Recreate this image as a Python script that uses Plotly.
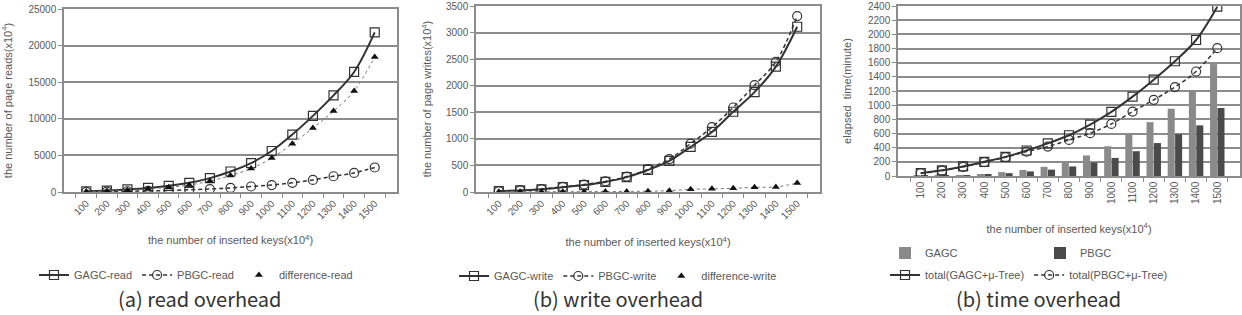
import plotly.graph_objects as go

keys = ['100', '200', '300', '400', '500', '600', '700', '800', '900', '1000',
        '1100', '1200', '1300', '1400', '1500']

gagc_read = [100, 200, 350, 550, 850, 1250, 1900, 2800, 3950, 5600, 7850, 10400, 13200, 16400, 21800]
pbgc_read = [30, 60, 100, 150, 200, 300, 400, 550, 750, 950, 1250, 1650, 2150, 2600, 3350]
diff_read = [70, 140, 250, 400, 650, 950, 1500, 2250, 3200, 4650, 6600, 8750, 11050, 13800, 18450]

gagc_write = [15, 30, 50, 90, 130, 190, 280, 415, 585, 850, 1130, 1510, 1880, 2360, 3110]
pbgc_write = [15, 30, 55, 95, 140, 200, 290, 430, 620, 910, 1220, 1590, 2010, 2450, 3310]
diff_write = [3, 4, 5, 5, 6, 8, 10, 15, 25, 50, 60, 70, 90, 95, 170]

gagc_time = [3, 5, 12, 25, 55, 85, 130, 190, 290, 420, 590, 760, 950, 1200, 1580]
pbgc_time = [2, 3, 8, 15, 40, 65, 90, 135, 190, 255, 350, 465, 590, 715, 960]
gagc_total = [40, 80, 135, 200, 270, 360, 460, 575, 725, 905, 1120, 1360, 1620, 1920, 2390]
pbgc_total = [40, 75, 130, 195, 265, 345, 415, 510, 605, 735, 910, 1075, 1255, 1475, 1805]

W, H = 1242, 315
TXT = '#595959'
LINE = '#333333'
GRID = '#8c8c8c'
FONT = 'Liberation Sans, Arial, sans-serif'
DASH = '4px,3px'

def px_x(a, b):
    return [a / W, b / W]

def px_y(top, bottom):
    return [(H - bottom) / H, (H - top) / H]

fig = go.Figure()

def line_traces(xa, ya, s1, s2, n1, n2, legend):
    fig.add_trace(go.Scatter(x=keys, y=s1, name=n1, xaxis=xa, yaxis=ya, legend=legend,
                             mode='lines+markers', line=dict(color=LINE, width=2, shape='spline'),
                             marker=dict(symbol='square-open', size=9, color=LINE, line=dict(width=1.2))))
    fig.add_trace(go.Scatter(x=keys, y=s2, name=n2, xaxis=xa, yaxis=ya, legend=legend,
                             mode='lines+markers', line=dict(color=LINE, width=1.5, dash=DASH, shape='spline'),
                             marker=dict(symbol='circle-open', size=9, color=LINE, line=dict(width=1.2))))

# panel (a)
line_traces('x', 'y', gagc_read, pbgc_read, 'GAGC-read', 'PBGC-read', 'legend')
fig.add_trace(go.Scatter(x=keys, y=diff_read, xaxis='x', yaxis='y', showlegend=False,
                         mode='lines', line=dict(color='#777777', width=1, dash='dot', shape='spline'),
                         hoverinfo='skip'))
fig.add_trace(go.Scatter(x=keys, y=diff_read, name='difference-read', xaxis='x', yaxis='y', legend='legend',
                         mode='markers', marker=dict(symbol='triangle-up', size=7, color='#111111')))

# panel (b)
line_traces('x2', 'y2', gagc_write, pbgc_write, 'GAGC-write', 'PBGC-write', 'legend2')
fig.add_trace(go.Scatter(x=keys, y=diff_write, xaxis='x2', yaxis='y2', showlegend=False,
                         mode='lines', line=dict(color='#777777', width=1, dash='dot', shape='spline'),
                         hoverinfo='skip'))
fig.add_trace(go.Scatter(x=keys, y=diff_write, name='difference-write', xaxis='x2', yaxis='y2', legend='legend2',
                         mode='markers', marker=dict(symbol='triangle-up', size=7, color='#111111')))

# panel (c)
fig.add_trace(go.Bar(x=keys, y=gagc_time, name='GAGC', xaxis='x3', yaxis='y3', legend='legend3',
                     marker=dict(color='#8a8a8a', line=dict(width=0))))
fig.add_trace(go.Bar(x=keys, y=pbgc_time, name='PBGC', xaxis='x3', yaxis='y3', legend='legend3',
                     marker=dict(color='#4a4a4a', line=dict(width=0))))
line_traces('x3', 'y3', gagc_total, pbgc_total, 'total(GAGC+μ-Tree)', 'total(PBGC+μ-Tree)', 'legend4')

tickfont = dict(family=FONT, size=10, color=TXT)
titlefont = dict(family=FONT, size=11, color=TXT)

def xaxis(dom, anchor, angle, title, standoff):
    return dict(domain=dom, anchor=anchor, type='category', tickangle=angle, tickfont=tickfont,
                showgrid=False, showline=True, linecolor=GRID, linewidth=1.5, mirror=True,
                ticks='outside', ticklen=4, tickcolor=GRID, tickson='boundaries',
                title=dict(text=title, font=titlefont, standoff=standoff), automargin=False)

def yaxis(dom, anchor, rng, dtick, title, standoff):
    return dict(domain=dom, anchor=anchor, range=rng, dtick=dtick, tickfont=tickfont,
                tickformat='d', showgrid=True, gridcolor=GRID, gridwidth=1.5, showline=True,
                linecolor=GRID, linewidth=1.5, mirror=True, ticks='outside', ticklen=4,
                tickcolor=GRID, zeroline=False,
                title=dict(text=title, font=titlefont, standoff=standoff), automargin=False)

xt = 'the number of inserted keys(x10<sup>4</sup>)'
legfont = dict(family=FONT, size=11, color=TXT)
fig.update_layout(
    width=W, height=H, margin=dict(l=0, r=0, t=0, b=0),
    paper_bgcolor='white', plot_bgcolor='white',
    font=dict(family=FONT, color=TXT),
    barmode='group', bargap=0.3, bargroupgap=0.05,
    xaxis=xaxis(px_x(64, 397), 'y', -45, xt, 16),
    yaxis=yaxis(px_y(9, 192), 'x', [0, 25000], 5000, 'the number of page reads(x10<sup>4</sup>)', 22),
    xaxis2=xaxis(px_x(476, 820), 'y2', -45, xt, 18),
    yaxis2=yaxis(px_y(6, 192), 'x2', [0, 3500], 500, 'the number of page writes(x10<sup>4</sup>)', 12),
    xaxis3=xaxis(px_x(898, 1240), 'y3', -90, xt, 22),
    yaxis3=yaxis(px_y(6, 176), 'x3', [0, 2400], 200, 'elapsed  time(minute)', 14),
    legend=dict(orientation='h', x=196 / W, xanchor='center', y=(H - 275) / H, yanchor='middle',
                font=legfont, bgcolor='rgba(0,0,0,0)', traceorder='normal'),
    legend2=dict(orientation='h', x=618 / W, xanchor='center', y=(H - 276) / H, yanchor='middle',
                 font=legfont, bgcolor='rgba(0,0,0,0)', traceorder='normal'),
    legend3=dict(orientation='h', x=885 / W, xanchor='left', y=(H - 253) / H, yanchor='middle',
                 font=legfont, bgcolor='rgba(0,0,0,0)', entrywidth=110, traceorder='normal'),
    legend4=dict(orientation='h', x=885 / W, xanchor='left', y=(H - 275) / H, yanchor='middle',
                 font=legfont, bgcolor='rgba(0,0,0,0)', traceorder='normal'),
)

capfont = dict(family='Noto Sans CJK KR, sans-serif', size=20, color='#333333')
for xc, txt in [(199, '(a) read overhead'), (618, '(b) write overhead'), (1038, '(b) time overhead')]:
    fig.add_annotation(text=txt, x=xc / W, y=(H - 298) / H, xref='paper', yref='paper',
                       showarrow=False, xanchor='center', yanchor='middle', font=capfont)

fig.write_html('out.html')
